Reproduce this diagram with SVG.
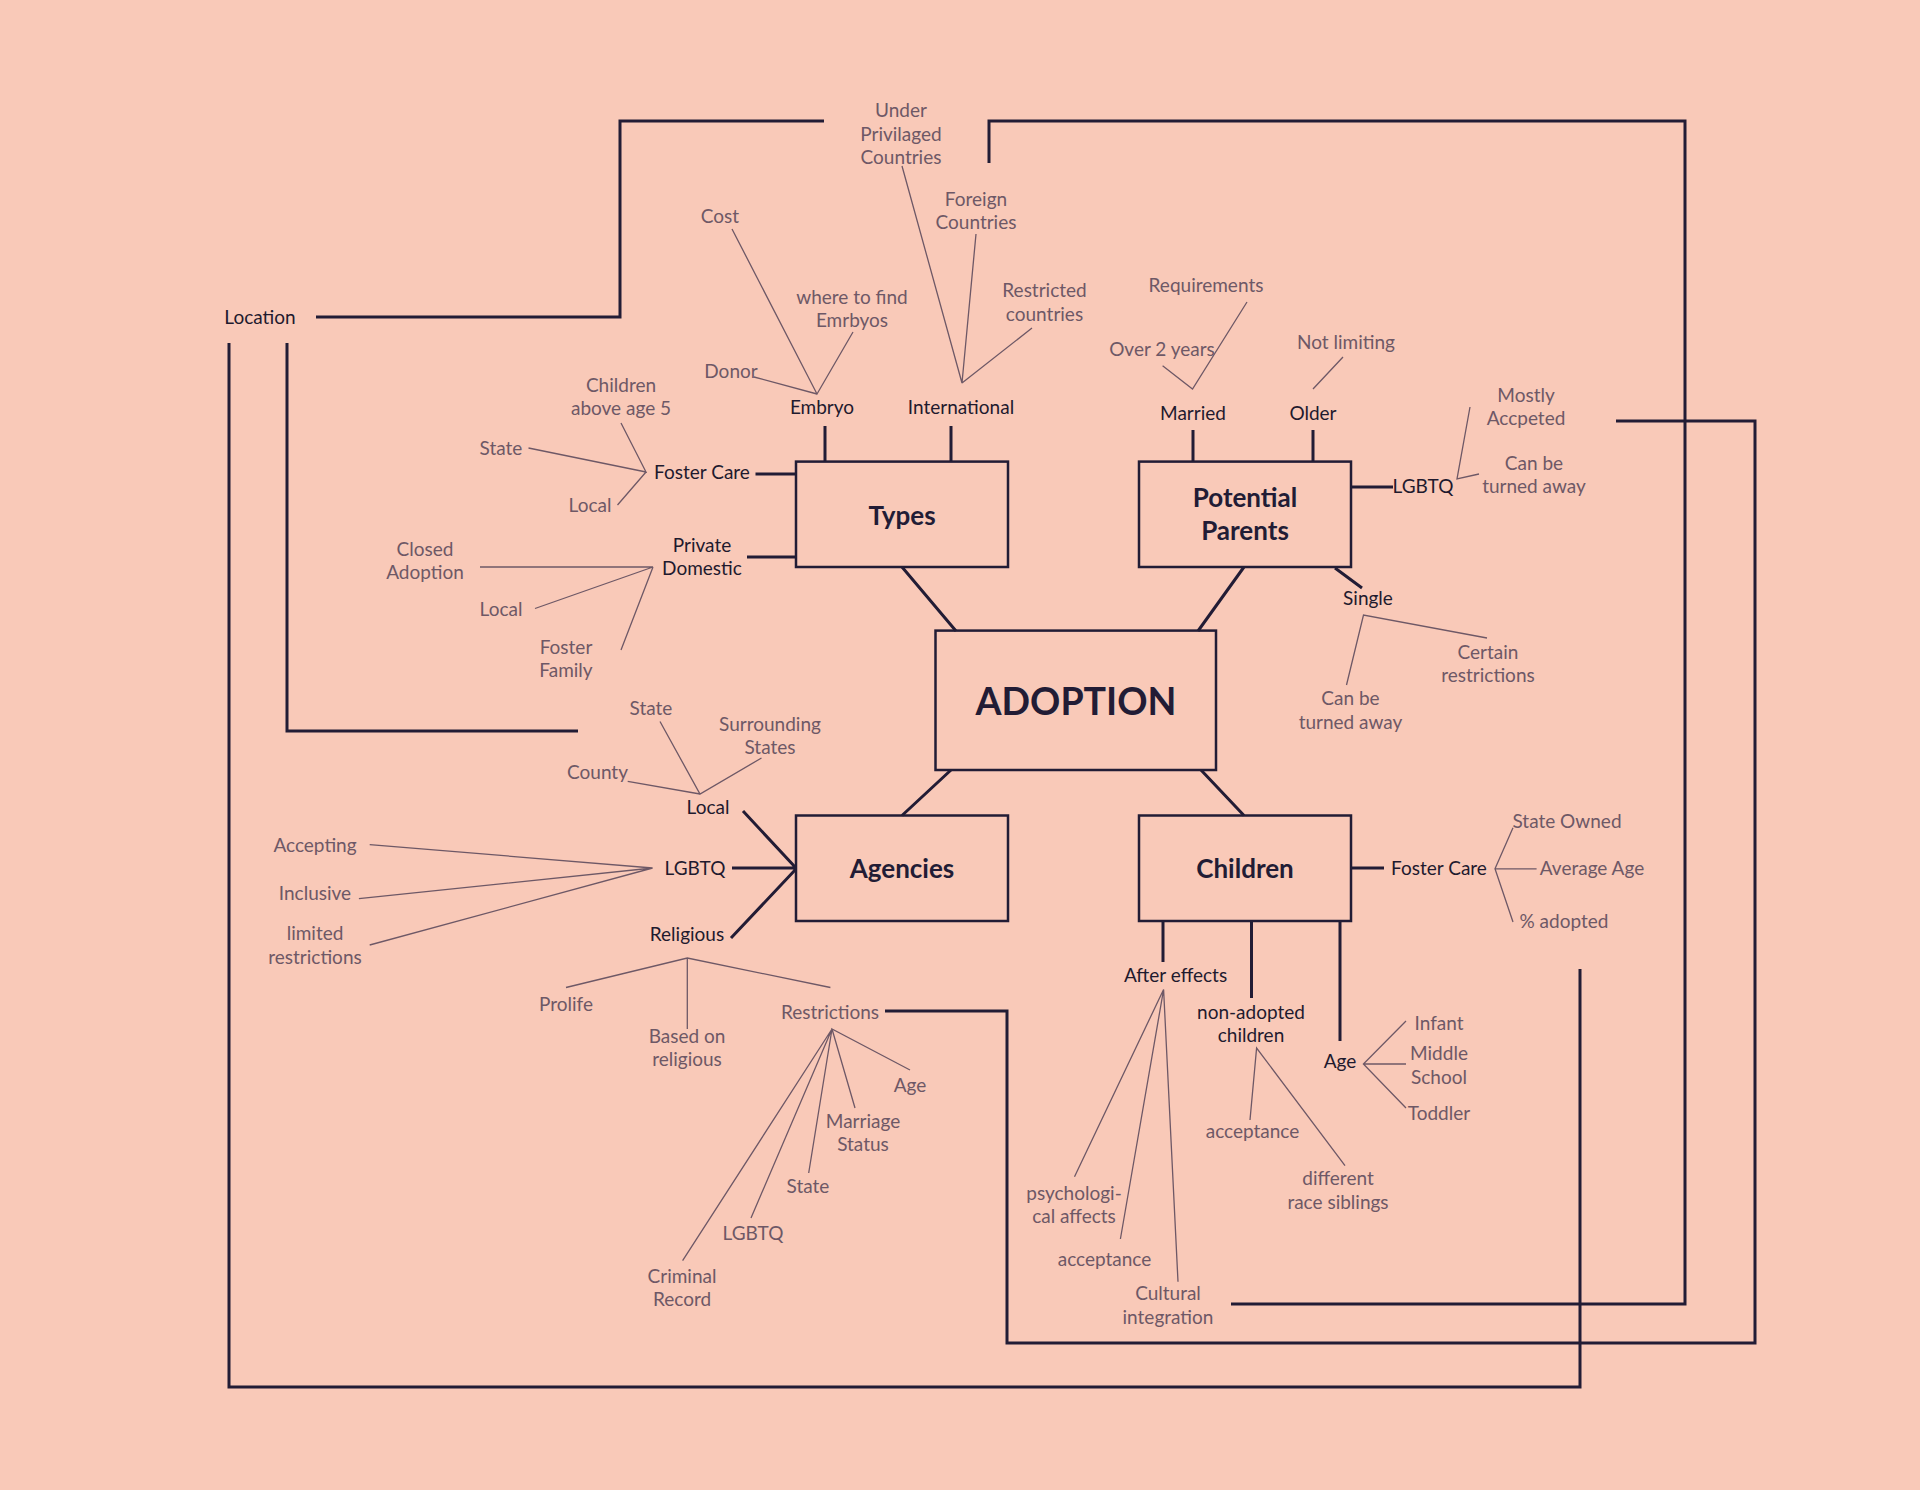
<svg xmlns="http://www.w3.org/2000/svg" width="1920" height="1490" viewBox="0 0 1920 1490">
<style>
text{font-family:Lato,"Open Sans","Liberation Sans",sans-serif;text-anchor:middle;dominant-baseline:central}
.lbl{font-size:19px;fill:#1f1a2e}
.leaf{font-size:19px;fill:#6e5866}
.box{fill:none;stroke:#221c35;stroke-width:2.5}
.title{font-size:26px;font-weight:700;fill:#221c35}
.main{font-size:37.5px;font-weight:700;fill:#221c35}
.thick{fill:none;stroke:#221c35;stroke-width:3}
.thin{fill:none;stroke:#6e5866;stroke-width:1.3}
</style>
<rect width="1920" height="1490" fill="#f9c9b8"/>

<g id="connectors">
<path class="thick" d="M316,317 H620 V121 H824"/>
<path class="thick" d="M989,163 V121 H1685 V1304 H1231"/>
<path class="thick" d="M229,343 V1387 H1580 V969"/>
<path class="thick" d="M287,343 V731 H578"/>
<path class="thick" d="M1616,421 H1755 V1343 H1007 V1011 H885"/>
<path class="thick" d="M902,567 L956,631 M1244,567 L1198,631 M902,815.5 L951,770 M1244,815.5 L1201,770"/>
<path class="thick" d="M825,426 V461.6 M951,426 V461.6 M755.5,474 H796 M747,557 H796"/>
<path class="thick" d="M1193,430 V461.6 M1313,430 V461.6 M1351,487 H1393 M1335,568 L1362,588"/>
<path class="thick" d="M743,811 L796,868 M732,868 H796 M731,938 L796,869"/>
<path class="thick" d="M1351,868 H1384 M1163,921 V962 M1251.5,921 V998 M1340,921 V1041"/>
<path class="thin" d="M732,229 L817,394 L853,332 M754,377 L817,394"/>
<path class="thin" d="M902,166 L962,383 L976,234 M1032,328 L962,383"/>
<path class="thin" d="M621,423 L646,472 L528.5,448 M646,472 L617.5,505"/>
<path class="thin" d="M480,567 H653 L535,608.5 M653,567 L621,650"/>
<path class="thin" d="M1162.6,365.7 L1192.5,389 L1247,302 M1343,357 L1313,389"/>
<path class="thin" d="M1470,407 L1457,479 L1479,474 M1487,638 L1363.5,615 L1346.5,685"/>
<path class="thin" d="M660,721.5 L700,794 L761.5,758 M627.7,781.4 L700,794"/>
<path class="thin" d="M369.7,844.6 L652.6,868 L358.9,898.6 M652.6,868 L369.7,945"/>
<path class="thin" d="M566,987.5 L687.3,958 L830.4,987.5 M687.3,958 V1029"/>
<path class="thin" d="M910,1070 L832,1029 L855,1108 M832,1029 L808.7,1173 M832,1029 L751,1218 M832,1029 L682.6,1260.7"/>
<path class="thin" d="M1513,827.8 L1495,868.8 L1513,922 M1495,868.8 H1536.6"/>
<path class="thin" d="M1074.5,1176.7 L1163.6,989.5 L1120.4,1239 M1163.6,989.5 L1178,1281.7"/>
<path class="thin" d="M1250,1120 L1256.6,1048 L1345,1165.7"/>
<path class="thin" d="M1406,1021 L1363.4,1064 L1406,1108 M1363.4,1064 H1406"/>
</g>

<g id="adoption"><rect class="box" x="935.5" y="630.6" width="280.5" height="139.4"/><text class="main" x="1076" y="700">ADOPTION</text></g>
<g id="types"><rect class="box" x="796" y="461.6" width="212" height="105.4"/><text class="title" x="902" y="514.5">Types</text></g>
<g id="potential-parents"><rect class="box" x="1139" y="461.6" width="212" height="105.4"/><text class="title" x="1245" y="497">Potential</text><text class="title" x="1245" y="530">Parents</text></g>
<g id="agencies"><rect class="box" x="796" y="815.5" width="212" height="105.5"/><text class="title" x="902" y="868">Agencies</text></g>
<g id="children"><rect class="box" x="1139" y="815.5" width="212" height="105.5"/><text class="title" x="1245" y="868">Children</text></g>

<g id="location" transform="translate(0,-1.2)"><text class="lbl" x="260" y="318">Location</text></g>

<g id="types-branch" transform="translate(0,-1.2)">
<text class="lbl" x="822" y="408">Embryo</text>
<text class="lbl" x="961" y="408">International</text>
<text class="lbl" x="702" y="473">Foster Care</text>
<text class="lbl" x="702" y="546">Private</text>
<text class="lbl" x="702" y="569">Domestic</text>
<text class="leaf" x="720" y="217">Cost</text>
<text class="leaf" x="852" y="297.5">where to find</text>
<text class="leaf" x="852" y="321">Emrbyos</text>
<text class="leaf" x="731" y="372">Donor</text>
<text class="leaf" x="901" y="111">Under</text>
<text class="leaf" x="901" y="135">Privilaged</text>
<text class="leaf" x="901" y="158">Countries</text>
<text class="leaf" x="976" y="200">Foreign</text>
<text class="leaf" x="976" y="223">Countries</text>
<text class="leaf" x="1044.5" y="291">Restricted</text>
<text class="leaf" x="1044.5" y="315">countries</text>
<text class="leaf" x="621" y="386">Children</text>
<text class="leaf" x="621" y="409">above age 5</text>
<text class="leaf" x="501" y="449">State</text>
<text class="leaf" x="590" y="506">Local</text>
<text class="leaf" x="425" y="550">Closed</text>
<text class="leaf" x="425" y="573">Adoption</text>
<text class="leaf" x="501" y="610">Local</text>
<text class="leaf" x="566" y="648">Foster</text>
<text class="leaf" x="566" y="671">Family</text>
</g>

<g id="parents-branch" transform="translate(0,-1.2)">
<text class="lbl" x="1193" y="414">Married</text>
<text class="lbl" x="1313" y="414">Older</text>
<text class="lbl" x="1423" y="487">LGBTQ</text>
<text class="lbl" x="1368" y="599">Single</text>
<text class="leaf" x="1206" y="286">Requirements</text>
<text class="leaf" x="1162" y="350">Over 2 years</text>
<text class="leaf" x="1346" y="343">Not limiting</text>
<text class="leaf" x="1526" y="395.5">Mostly</text>
<text class="leaf" x="1526" y="419">Accpeted</text>
<text class="leaf" x="1534" y="464">Can be</text>
<text class="leaf" x="1534" y="487">turned away</text>
<text class="leaf" x="1488" y="653">Certain</text>
<text class="leaf" x="1488" y="676">restrictions</text>
<text class="leaf" x="1350.5" y="699">Can be</text>
<text class="leaf" x="1350.5" y="722.5">turned away</text>
</g>

<g id="agencies-branch" transform="translate(0,-1.2)">
<text class="lbl" x="708" y="808">Local</text>
<text class="lbl" x="695" y="869">LGBTQ</text>
<text class="lbl" x="687" y="935">Religious</text>
<text class="leaf" x="651" y="709">State</text>
<text class="leaf" x="770" y="725">Surrounding</text>
<text class="leaf" x="770" y="748">States</text>
<text class="leaf" x="597.5" y="773">County</text>
<text class="leaf" x="315" y="846">Accepting</text>
<text class="leaf" x="315" y="894">Inclusive</text>
<text class="leaf" x="315" y="934">limited</text>
<text class="leaf" x="315" y="957.5">restrictions</text>
<text class="leaf" x="566" y="1005">Prolife</text>
<text class="leaf" x="687" y="1037">Based on</text>
<text class="leaf" x="687" y="1060">religious</text>
<text class="leaf" x="830" y="1012.5">Restrictions</text>
<text class="leaf" x="910" y="1086">Age</text>
<text class="leaf" x="863" y="1122">Marriage</text>
<text class="leaf" x="863" y="1145">Status</text>
<text class="leaf" x="808" y="1186.5">State</text>
<text class="leaf" x="753" y="1234">LGBTQ</text>
<text class="leaf" x="682" y="1277">Criminal</text>
<text class="leaf" x="682" y="1300">Record</text>
</g>

<g id="children-branch" transform="translate(0,-1.2)">
<text class="lbl" x="1439" y="869">Foster Care</text>
<text class="lbl" x="1175.5" y="976">After effects</text>
<text class="lbl" x="1251" y="1013">non-adopted</text>
<text class="lbl" x="1251" y="1036">children</text>
<text class="lbl" x="1340" y="1062">Age</text>
<text class="leaf" x="1567" y="821.5">State Owned</text>
<text class="leaf" x="1592" y="869">Average Age</text>
<text class="leaf" x="1564" y="922">% adopted</text>
<text class="leaf" x="1074" y="1194">psychologi-</text>
<text class="leaf" x="1074" y="1217">cal affects</text>
<text class="leaf" x="1104.5" y="1260">acceptance</text>
<text class="leaf" x="1168" y="1294">Cultural</text>
<text class="leaf" x="1168" y="1317.5">integration</text>
<text class="leaf" x="1252.5" y="1131.5">acceptance</text>
<text class="leaf" x="1338" y="1179">different</text>
<text class="leaf" x="1338" y="1202.5">race siblings</text>
<text class="leaf" x="1439" y="1024">Infant</text>
<text class="leaf" x="1439" y="1054">Middle</text>
<text class="leaf" x="1439" y="1077.5">School</text>
<text class="leaf" x="1439" y="1114">Toddler</text>
</g>
</svg>
